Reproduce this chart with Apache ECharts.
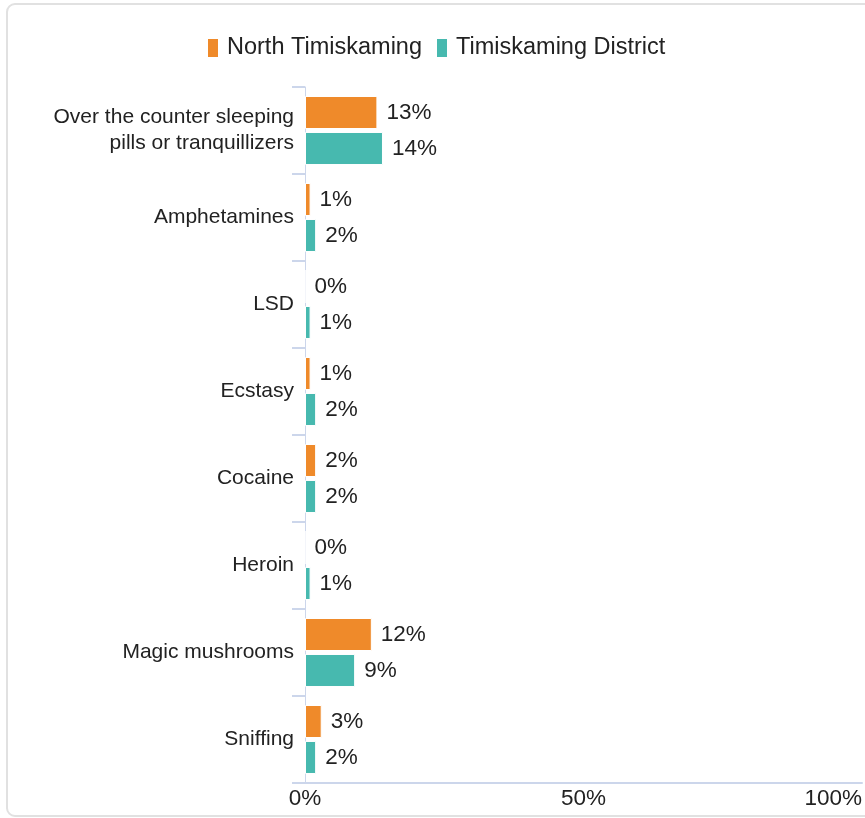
<!DOCTYPE html>
<html>
<head>
<meta charset="utf-8">
<script src="https://cdn.jsdelivr.net/npm/echarts@6/dist/echarts.min.js"></script>
<style>
  html, body { margin: 0; padding: 0; background: #fff; overflow: hidden; }
  #card {
    position: absolute; left: 6px; top: 3px; width: 900px; height: 814px;
    border: 2px solid #e1e1e1; border-radius: 9px; box-sizing: border-box;
  }
  #chart { position: absolute; left: 0; top: 0; width: 865px; height: 818px; }
</style>
</head>
<body>
<div id="card"></div>
<div id="chart"></div>
<script>
// Substances used in the past year (% of students)
const categories = [
  'Over the counter sleeping\npills or tranquillizers',
  'Amphetamines',
  'LSD',
  'Ecstasy',
  'Cocaine',
  'Heroin',
  'Magic mushrooms',
  'Sniffing'
];
const seriesNames = ['North Timiskaming', 'Timiskaming District'];
const northTimiskaming = [13, 1, 0, 1, 2, 0, 12, 3];
const timiskamingDistrict = [14, 2, 1, 2, 2, 1, 9, 2];
const valueTicks = [0, 50, 100];

const colors = ['#EF8A2A', '#47B9AF'];
const font = 'Arial, "Liberation Sans", Helvetica, sans-serif';

const chart = echarts.init(document.getElementById('chart'), null, { renderer: 'canvas' });

function barSeries(name, data, color) {
  return {
    name: name,
    type: 'bar',
    data: data,
    barWidth: 33,
    barGap: '9%',
    itemStyle: { color: color, borderColor: '#ffffff', borderWidth: 1 },
    label: {
      show: true,
      position: 'right',
      distance: 9,
      formatter: '{c}%',
      color: '#222',
      fontFamily: font,
      fontSize: 22.5
    }
  };
}

chart.setOption({
  animation: false,
  color: colors,
  legend: {
    data: seriesNames,
    top: 31,
    left: 201,
    icon: 'rect',
    itemWidth: 12,
    itemHeight: 20,
    itemGap: 13,
    textStyle: { fontFamily: font, fontSize: 23.5, color: '#222', padding: [0, 0, 0, 3] }
  },
  grid: { left: 305, right: 2, top: 87, bottom: 35, containLabel: false },
  xAxis: {
    type: 'value',
    min: valueTicks[0],
    max: valueTicks[valueTicks.length - 1],
    interval: valueTicks[1] - valueTicks[0],
    axisLine: { show: true, lineStyle: { color: '#ccd6eb', width: 2 } },
    axisTick: { show: false },
    splitLine: { show: false },
    axisLabel: {
      formatter: '{value}%',
      fontFamily: font,
      fontSize: 22.5,
      color: '#222',
      margin: 4,
      alignMaxLabel: 'right'
    }
  },
  yAxis: {
    type: 'category',
    data: categories,
    inverse: true,
    axisLine: { show: true, lineStyle: { color: '#ccd6eb', width: 1 } },
    axisTick: { show: true, length: 13, lineStyle: { color: '#ccd6eb', width: 2 } },
    axisLabel: {
      fontFamily: font,
      fontSize: 21,
      lineHeight: 26,
      color: '#222',
      margin: 11
    }
  },
  series: [
    barSeries(seriesNames[0], northTimiskaming, colors[0]),
    barSeries(seriesNames[1], timiskamingDistrict, colors[1])
  ]
});
</script>
</body>
</html>
